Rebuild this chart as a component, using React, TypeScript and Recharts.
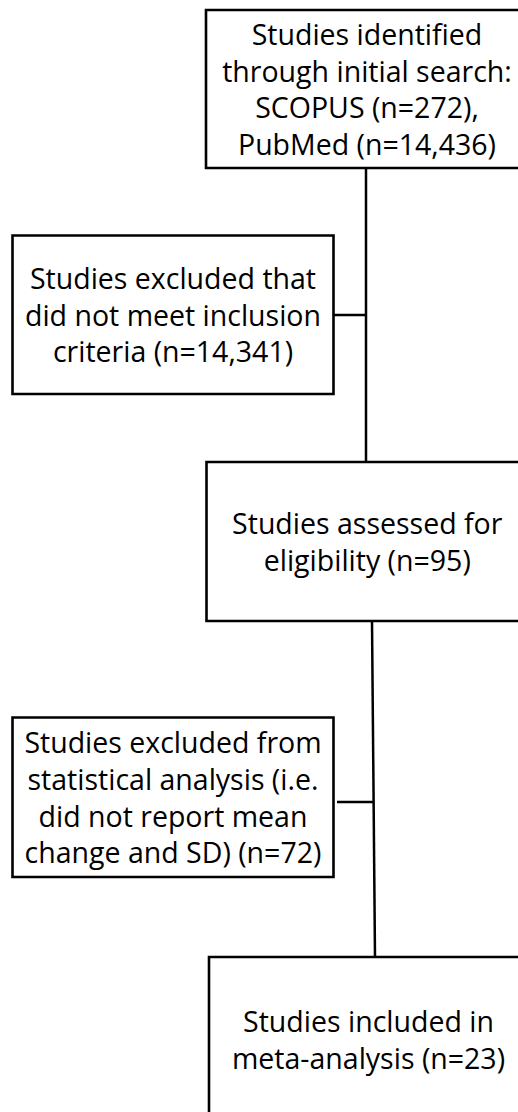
import React from "react";
import {
  ComposedChart,
  XAxis,
  YAxis,
  ReferenceArea,
  ReferenceLine,
  Label,
} from "recharts";

// Record counts at each PRISMA stage
const scopusCount = 272;
const pubmedCount = 14436;
const excludedScreeningCount = 14341;
const assessedCount = 95;
const excludedAnalysisCount = 72;
const includedCount = 23;

const fmt = (n: number) => n.toLocaleString("en-US");

// Box text, one entry per wrapped line
const identifiedLines = [
  "Studies identified",
  "through initial search:",
  `SCOPUS (n=${fmt(scopusCount)}),`,
  `PubMed (n=${fmt(pubmedCount)})`,
];
const excludedScreeningLines = [
  "Studies excluded that",
  "did not meet inclusion",
  `criteria (n=${fmt(excludedScreeningCount)})`,
];
const assessedLines = ["Studies assessed for", `eligibility (n=${fmt(assessedCount)})`];
const excludedAnalysisLines = [
  "Studies excluded from",
  "statistical analysis (i.e.",
  "did not report mean",
  `change and SD) (n=${fmt(excludedAnalysisCount)})`,
];
const includedLines = ["Studies included in", `meta-analysis (n=${fmt(includedCount)})`];

// Layout in chart units (pixels of the 518x1112 canvas)
const W = 518;
const H = 1112;
const boxLayout = [
  { lines: identifiedLines, x1: 206, x2: 528, y1: 10, y2: 168 },
  { lines: excludedScreeningLines, x1: 12.5, x2: 333.5, y1: 235.5, y2: 394 },
  { lines: assessedLines, x1: 206.5, x2: 528, y1: 462, y2: 621 },
  { lines: excludedAnalysisLines, x1: 12.5, x2: 333.5, y1: 717.5, y2: 877 },
  { lines: includedLines, x1: 209, x2: 528, y1: 957, y2: 1122 },
];
const connectors = [
  [{ x: 366, y: 168 }, { x: 366, y: 462 }],
  [{ x: 333.5, y: 315 }, { x: 366, y: 315 }],
  [{ x: 372, y: 621 }, { x: 375, y: 957 }],
  [{ x: 337, y: 802 }, { x: 373.5, y: 802 }],
];

const FONT = "'Open Sans', Lato, sans-serif";
const LINE_H = 36.7;

const boxText = (lines: string[]) => (props: any) => {
  const vb = props.viewBox || {};
  const cx = vb.x + vb.width / 2;
  const cy = vb.y + vb.height / 2;
  const start = cy - ((lines.length - 1) * LINE_H) / 2;
  return (
    <text
      textAnchor="middle"
      fontFamily={FONT}
      fontSize={28.5}
      fill="#000"
    >
      {lines.map((l, i) => (
        <tspan key={i} x={cx} y={start + i * LINE_H} dominantBaseline="central">
          {l}
        </tspan>
      ))}
    </text>
  );
};

export default function App() {
  return (
    <div
      style={{
        position: "absolute",
        left: 0,
        top: 0,
        width: W,
        height: H,
        overflow: "hidden",
        background: "#fff",
      }}
    >
      <ComposedChart width={W} height={H} margin={{ top: 0, right: 0, bottom: 0, left: 0 }} data={[]}>
        <XAxis type="number" dataKey="x" domain={[0, W]} hide allowDataOverflow />
        <YAxis type="number" dataKey="y" domain={[0, H]} reversed hide allowDataOverflow />
        {connectors.map((seg, i) => (
          <ReferenceLine
            key={`c${i}`}
            segment={seg}
            stroke="#000"
            strokeWidth={2.5}
            ifOverflow="visible"
          />
        ))}
        {boxLayout.map((b, i) => (
          <ReferenceArea
            key={`b${i}`}
            x1={b.x1}
            x2={b.x2}
            y1={b.y1}
            y2={b.y2}
            fill="#fff"
            fillOpacity={1}
            stroke="#000"
            strokeWidth={2.6}
            ifOverflow="visible"
          >
            <Label content={boxText(b.lines)} />
          </ReferenceArea>
        ))}
      </ComposedChart>
    </div>
  );
}
